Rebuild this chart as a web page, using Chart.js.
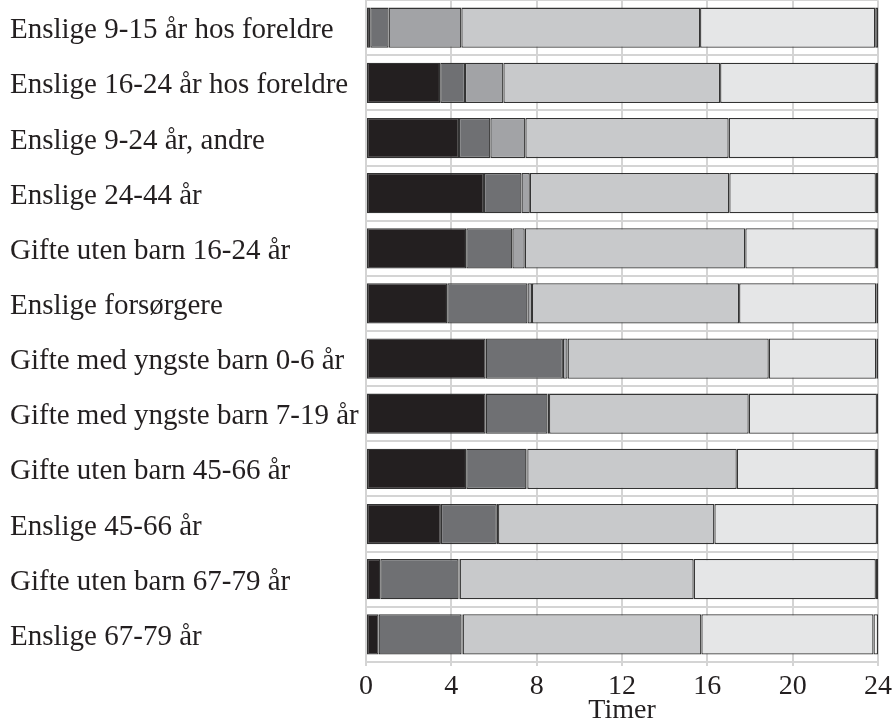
<!DOCTYPE html>
<html>
<head>
<meta charset="utf-8">
<script src="https://cdn.jsdelivr.net/npm/chart.js@4/dist/chart.umd.min.js"></script>
<style>
  html, body { margin: 0; padding: 0; background: #fff; }
  #wrap { width: 896px; height: 725px; position: relative; }
</style>
</head>
<body>
<div id="wrap"><canvas id="timeChart"></canvas></div>
<script>
// categories (top to bottom)
const groups = [
  'Enslige 9-15 år hos foreldre',
  'Enslige 16-24 år hos foreldre',
  'Enslige 9-24 år, andre',
  'Enslige 24-44 år',
  'Gifte uten barn 16-24 år',
  'Enslige forsørgere',
  'Gifte med yngste barn 0-6 år',
  'Gifte med yngste barn 7-19 år',
  'Gifte uten barn 45-66 år',
  'Enslige 45-66 år',
  'Gifte uten barn 67-79 år',
  'Enslige 67-79 år'
];

// hours per segment (left to right)
const seg1 = [0.20, 3.48, 4.36, 5.53, 4.70, 3.81, 5.61, 5.61, 4.70, 3.51, 0.67, 0.59];
const seg2 = [0.86, 1.16, 1.47, 1.76, 2.16, 3.76, 3.62, 2.90, 2.82, 2.62, 3.67, 3.89];
const seg3 = [3.41, 1.80, 1.64, 0.39, 0.58, 0.21, 0.22, 0.07, 0.04, 0.06, 0.05, 0.05];
const seg4 = [11.19, 10.16, 9.53, 9.35, 10.34, 9.71, 9.43, 9.36, 9.82, 10.14, 10.97, 11.19];
const seg5 = [8.21, 7.30, 6.90, 6.87, 6.12, 6.43, 5.04, 6.01, 6.52, 7.62, 8.54, 8.07];
const seg6 = [0.13, 0.10, 0.10, 0.10, 0.10, 0.08, 0.08, 0.05, 0.10, 0.05, 0.10, 0.21];

const xTicks = [0, 4, 8, 12, 16, 20, 24];
const axisTitle = 'Timer';

const fills = ['#231f20', '#6f7073', '#a2a3a6', '#c8c9cb', '#e5e6e7', '#f7f7f7'];
const series = [seg1, seg2, seg3, seg4, seg5, seg6];

const family = "'Liberation Serif', 'Times New Roman', serif";
const font = { family, size: 28 };
const titleFont = { family, size: 28, lineHeight: 1 };
const labelFont = { family, size: 29, lineHeight: 0.01 };
const ink = '#231f20';
const gridGray = '#d4d4d4';

const ctx = document.getElementById('timeChart').getContext('2d');

new Chart(ctx, {
  type: 'bar',
  data: {
    labels: groups,
    datasets: series.map((data, i) => ({
      label: 'del ' + (i + 1),
      data,
      backgroundColor: fills[i],
      borderColor: '#333333',
      borderWidth: 1.3,
      borderSkipped: false,
      categoryPercentage: 1,
      barPercentage: 0.73
    }))
  },
  options: {
    indexAxis: 'y',
    responsive: true,
    maintainAspectRatio: false,
    animation: false,
    layout: { padding: { left: 10, right: 15, top: 0, bottom: 0 } },
    plugins: {
      legend: { display: false },
      tooltip: { enabled: false }
    },
    scales: {
      x: {
        stacked: true,
        min: 0,
        max: 24,
        afterBuildTicks: scale => { scale.ticks = xTicks.map(v => ({ value: v })); },
        grid: { color: gridGray, lineWidth: 2, tickLength: 4 },
        border: { color: gridGray, width: 2 },
        ticks: { color: ink, font, padding: 4, maxRotation: 0 },
        title: { display: true, text: axisTitle, color: ink, font: titleFont, padding: { top: -10.5, bottom: 0 } }
      },
      y: {
        stacked: true,
        afterFit: scale => { scale.width = 356; },
        grid: { color: gridGray, lineWidth: 2, drawTicks: false, offset: true },
        border: { color: gridGray, width: 2 },
        ticks: { color: ink, font: labelFont, crossAlign: 'far', padding: 0, labelOffset: 3 }
      }
    }
  }
});
</script>
</body>
</html>
